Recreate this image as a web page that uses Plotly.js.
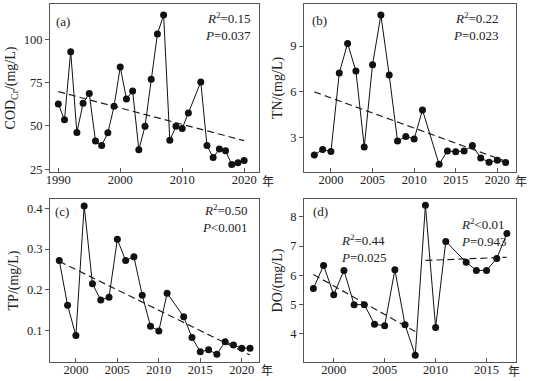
<!DOCTYPE html>
<html><head><meta charset="utf-8">
<script src="https://cdn.plot.ly/plotly-3.0.1.min.js"></script>
<style>html,body{margin:0;padding:0;background:#fff}#chart{width:537px;height:381px}</style>
</head><body><div id="chart"></div>
<script>
// (a) COD_Cr
const yearsA = [1990,1991,1992,1993,1994,1995,1996,1997,1998,1999,2000,2001,2002,2003,2004,2005,2006,2007,2008,2009,2010,2011,2013,2014,2015,2016,2017,2018,2019,2020];
const codA = [62.7,53.5,92.9,46.2,63.1,68.7,41.3,38.7,46,61.3,84,65.6,70.2,36.3,49.8,76.9,103.1,114,41.7,49.8,48.5,57.5,75.4,38.7,31.7,36.7,35.6,27.7,28.8,30];
const trendYearsA = [1990,2020];
const trendA = [69.8,41.5];
// (b) TN
const yearsB = [1998,1999,2000,2001,2002,2003,2004,2005,2006,2007,2008,2009,2010,2011,2013,2014,2015,2016,2017,2018,2019,2020,2021];
const tnB = [1.87,2.22,2.09,7.23,9.17,7.36,2.39,7.78,11.03,7.1,2.78,3.07,2.91,4.81,1.25,2.13,2.07,2.13,2.48,1.67,1.39,1.52,1.37];
const trendYearsB = [1998,2021];
const trendB = [6.0,1.45];
// (c) TP
const yearsC = [1998,1999,2000,2001,2002,2003,2004,2005,2006,2007,2008,2009,2010,2011,2013,2014,2015,2016,2017,2018,2019,2020,2021];
const tpC = [0.272,0.162,0.088,0.406,0.215,0.175,0.182,0.324,0.272,0.281,0.187,0.111,0.099,0.192,0.134,0.083,0.048,0.053,0.042,0.073,0.065,0.057,0.057];
const trendYearsC = [1998,2021];
const trendC = [0.270,0.040];
// (d) DO
const yearsD = [1998,1999,2000,2001,2002,2003,2004,2005,2006,2007,2008,2009,2010,2011,2013,2014,2015,2016,2017];
const doD = [5.55,6.34,5.34,6.17,5.0,5.0,4.33,4.28,6.19,4.31,3.27,8.40,4.22,7.16,6.45,6.17,6.17,6.58,7.43];
const trendYearsD1 = [1998,2008];
const trendD1 = [6.03,4.08];
const trendYearsD2 = [2009,2017];
const trendD2 = [6.51,6.62];

const yTitles = ['COD<sub>Cr</sub>/(mg/L)','TN/(mg/L)','TP/(mg/L)','DO/(mg/L)'];
const panelLabels = ['(a)','(b)','(c)','(d)'];
const statsText = ['<i>R</i><sup>2</sup>=0.15<br><i>P</i>=0.037','<i>R</i><sup>2</sup>=0.22<br><i>P</i>=0.023','<i>R</i><sup>2</sup>=0.50<br><i>P</i><0.001','<i>R</i><sup>2</sup>=0.44<br><i>P</i>=0.025','<i>R</i><sup>2</sup><0.01<br><i>P</i>=0.943'];
const yearUnit = '年';

const W = 537, H = 381;
const FONT = 'Liberation Serif, Times New Roman, serif';
const AX = '#555';
const px = v => v / W;
const py = v => 1 - v / H;

function series(x, y, xa, ya) {
  return {x, y, xaxis: xa, yaxis: ya, type: 'scatter', mode: 'lines+markers',
    line: {color: '#111', width: 1}, marker: {color: '#111', size: 7}, hoverinfo: 'skip', showlegend: false};
}
function trend(x, y, xa, ya) {
  return {x, y, xaxis: xa, yaxis: ya, type: 'scatter', mode: 'lines',
    line: {color: '#222', width: 1.2, dash: '7px,4px'}, hoverinfo: 'skip', showlegend: false};
}

const data = [
  trend(trendYearsA, trendA, 'x', 'y'), series(yearsA, codA, 'x', 'y'),
  trend(trendYearsB, trendB, 'x2', 'y2'), series(yearsB, tnB, 'x2', 'y2'),
  trend(trendYearsC, trendC, 'x3', 'y3'), series(yearsC, tpC, 'x3', 'y3'),
  trend(trendYearsD1, trendD1, 'x4', 'y4'), trend(trendYearsD2, trendD2, 'x4', 'y4'), series(yearsD, doD, 'x4', 'y4')
];

function xax(dom, range, tickvals, anchor) {
  return {domain: dom, range, tickvals, anchor, showline: true, mirror: true, linecolor: AX, linewidth: 1,
    ticks: 'inside', ticklen: 4, tickcolor: AX, showgrid: false, zeroline: false, ticklabelstandoff: -4,
    tickfont: {family: FONT, size: 12.5, color: '#222'}, automargin: false};
}
function yax(dom, range, tickvals, anchor, title, fmt) {
  return {domain: dom, range, tickvals, anchor, showline: true, mirror: true, linecolor: AX, linewidth: 1,
    ticks: 'outside', ticklen: 4, tickcolor: AX, showgrid: false, zeroline: false, tickformat: fmt || '',
    tickfont: {family: FONT, size: 12.5, color: '#222'}, automargin: false,
    title: {text: title, font: {family: FONT, size: 14, color: '#222'}, standoff: 4}};
}

const colL = [px(50), px(259)], colR = [px(304), px(516)];
const rowT = [py(172), py(4)], rowB = [py(362), py(199)];

const layout = {
  width: W, height: H, margin: {l: 0, r: 0, t: 0, b: 0}, paper_bgcolor: '#fff', plot_bgcolor: '#fff',
  showlegend: false, font: {family: FONT, color: '#222'},
  xaxis: xax(colL, [1988.66, 2022.4], [1990, 2000, 2010, 2020], 'y'),
  yaxis: yax(rowT, [23.4, 120.4], [25, 50, 75, 100], 'x', yTitles[0]),
  xaxis2: xax(colR, [1996.76, 2022.24], [2000, 2005, 2010, 2015, 2020], 'y2'),
  yaxis2: yax(rowT, [0.75, 11.75], [3, 6, 9], 'x2', yTitles[1]),
  xaxis3: xax(colL, [1996.88, 2022.08], [2000, 2005, 2010, 2015, 2020], 'y3'),
  yaxis3: yax(rowB, [0.023, 0.423], [0.1, 0.2, 0.3, 0.4], 'x3', yTitles[2], '.1f'),
  xaxis4: xax(colR, [1997.08, 2017.89], [2000, 2005, 2010, 2015], 'y4'),
  yaxis4: yax(rowB, [3.04, 8.61], [4, 5, 6, 7, 8], 'x4', yTitles[3]),
  annotations: []
};

const ann = layout.annotations;
const txt = (text, x, y, xanchor, opts) => Object.assign({text, x: px(x), y: py(y), xref: 'paper', yref: 'paper',
  xanchor, yanchor: 'middle', showarrow: false, font: {family: FONT, size: 13, color: '#222'}}, opts || {});
ann.push(txt(panelLabels[0], 54, 22, 'left'));
ann.push(txt(panelLabels[1], 310, 20, 'left'));
ann.push(txt(panelLabels[2], 53, 211, 'left'));
ann.push(txt(panelLabels[3], 311, 211, 'left'));
ann.push(txt(statsText[0], 253, 26, 'right', {align: 'right'}));
ann.push(txt(statsText[1], 501, 26, 'right', {align: 'right'}));
ann.push(txt(statsText[2], 250, 218, 'right', {align: 'right'}));
ann.push(txt(statsText[3], 339, 249, 'left', {align: 'left'}));
ann.push(txt(statsText[4], 459, 233, 'left', {align: 'left'}));
const cjk = {font: {family: 'Noto Sans CJK SC, sans-serif', size: 12, color: '#222'}};
ann.push(txt(yearUnit, 268, 180, 'center', cjk));
ann.push(txt(yearUnit, 521, 180, 'center', cjk));
ann.push(txt(yearUnit, 267, 369, 'center', cjk));
ann.push(txt(yearUnit, 514, 370, 'center', cjk));

Plotly.newPlot('chart', data, layout, {staticPlot: true, displayModeBar: false});
</script></body></html>
